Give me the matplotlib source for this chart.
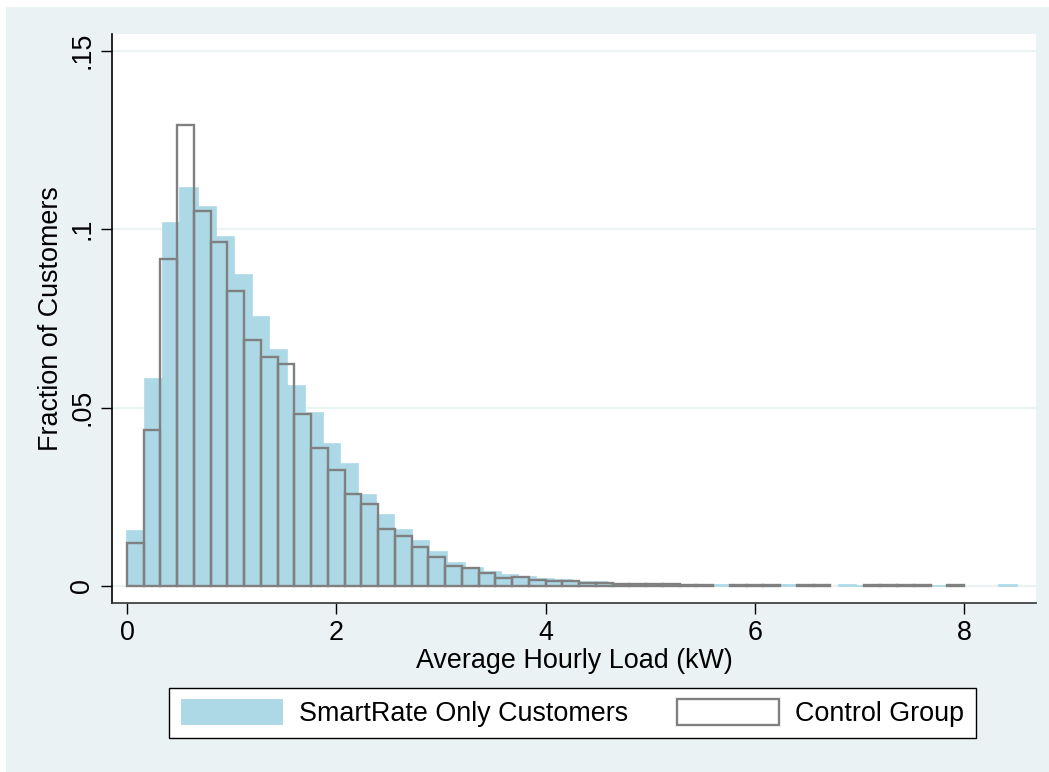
import numpy as np
import matplotlib
matplotlib.use("Agg")
import matplotlib.pyplot as plt
from matplotlib.patches import Rectangle

# fraction of customers per bin
smartrate_bin_width = 0.17
smartrate_frac = [
    0.0154, 0.0581, 0.1017, 0.1116, 0.1062, 0.0979, 0.0872, 0.0753, 0.0661, 0.0560,
    0.0485, 0.0398, 0.0342, 0.0254, 0.0200, 0.0157, 0.0126, 0.0095, 0.0064, 0.0051,
    0.0038, 0.0031, 0.0026, 0.0020, 0.0016, 0.0011, 0.0011, 0.0007, 0.0006, 0.0005,
    0.0004, 0.0004, 0.0003, 0.0002, 0.0002, 0.0002, 0.0002, 0.0002, 0.0001, 0.0,
    0.0002, 0.0001, 0.0001, 0.0001, 0.0001, 0.0001, 0.0001, 0.0, 0.0, 0.0002,
]

control_bin_width = 0.16
control_frac = [
    0.0120, 0.0437, 0.0916, 0.1291, 0.1051, 0.0964, 0.0826, 0.0690, 0.0642, 0.0621,
    0.0482, 0.0388, 0.0325, 0.0258, 0.0230, 0.0161, 0.0141, 0.0109, 0.0082, 0.0055,
    0.0050, 0.0036, 0.0023, 0.0026, 0.0017, 0.0014, 0.0014, 0.0009, 0.0009, 0.0007,
    0.0006, 0.0005, 0.0005, 0.0004, 0.0004, 0.0, 0.0003, 0.0003, 0.0003, 0.0,
    0.0003, 0.0002, 0.0, 0.0, 0.0002, 0.0002, 0.0002, 0.0002, 0.0, 0.0002,
]

xticks = [0, 2, 4, 6, 8]
yticks = [0, 0.05, 0.1, 0.15]
ytick_labels = ["0", ".05", ".1", ".15"]

BG = "#EAF2F3"
BLUE = "#ADD8E6"
GREY = "#808080"
FS = 19.4

plt.rcParams["font.family"] = ["Liberation Sans", "DejaVu Sans"]

fig = plt.figure(figsize=(10.49, 7.72), dpi=100, facecolor="white")
fig.patches.append(Rectangle((6 / 1049, 0), 1, (772 - 7) / 772,
                             transform=fig.transFigure, facecolor=BG,
                             edgecolor="none", zorder=-10))
ax = fig.add_axes([112 / 1049, 1 - 603 / 772, 924 / 1049, 569.5 / 772])
ax.set_facecolor("white")

sm = np.array(smartrate_frac)
ct = np.array(control_frac)
sm_left = np.arange(len(sm)) * smartrate_bin_width
ct_left = np.arange(len(ct)) * control_bin_width

sm_edges = [BLUE if v > 0 else "none" for v in sm]
ax.bar(sm_left, sm, width=smartrate_bin_width, align="edge", color=BLUE,
       edgecolor=sm_edges, linewidth=1.2, zorder=2, label="SmartRate Only Customers")
ct_edges = [GREY if v > 0 else "none" for v in ct]
ax.bar(ct_left, ct, width=control_bin_width, align="edge", fill=False,
       edgecolor=ct_edges, linewidth=1.7, zorder=3, label="Control Group")

ax.set_xlim(-0.143, 8.686)
ax.set_ylim(-0.00476, 0.1548)

for y in yticks:
    ax.axhline(y, color=BG, linewidth=1.6, zorder=1)

ax.set_xticks(xticks)
ax.set_yticks(yticks)
ax.set_yticklabels(ytick_labels, rotation=90, va="center")
ax.tick_params(axis="both", labelsize=FS, length=8, width=1, color="black", pad=4)

for s in ["top", "right"]:
    ax.spines[s].set_visible(False)
ax.spines["left"].set_linewidth(1.2)
ax.spines["bottom"].set_linewidth(1.2)
ax.spines["bottom"].set_color("#333333")

ax.set_xlabel("Average Hourly Load (kW)", fontsize=FS, labelpad=2)
ax.set_ylabel("Fraction of Customers", fontsize=FS, labelpad=4)

handles, labels = ax.get_legend_handles_labels()
handles[0] = Rectangle((0, 0), 1, 1, facecolor=BLUE, edgecolor="none")
handles[1] = Rectangle((0, 0), 1, 1, fill=False, edgecolor=GREY, linewidth=1.7)
leg = fig.legend(handles, labels, loc="center", bbox_to_anchor=(572.5 / 1049, 1 - 713 / 772),
                 ncol=2, fontsize=FS, frameon=True, fancybox=False, framealpha=1,
                 edgecolor="black", handlelength=3.8, handleheight=1.12,
                 handletextpad=0.6, columnspacing=1.8, borderpad=0.42)
leg.get_frame().set_linewidth(1.0)

fig.savefig("out.png", dpi=100, facecolor=fig.get_facecolor())
